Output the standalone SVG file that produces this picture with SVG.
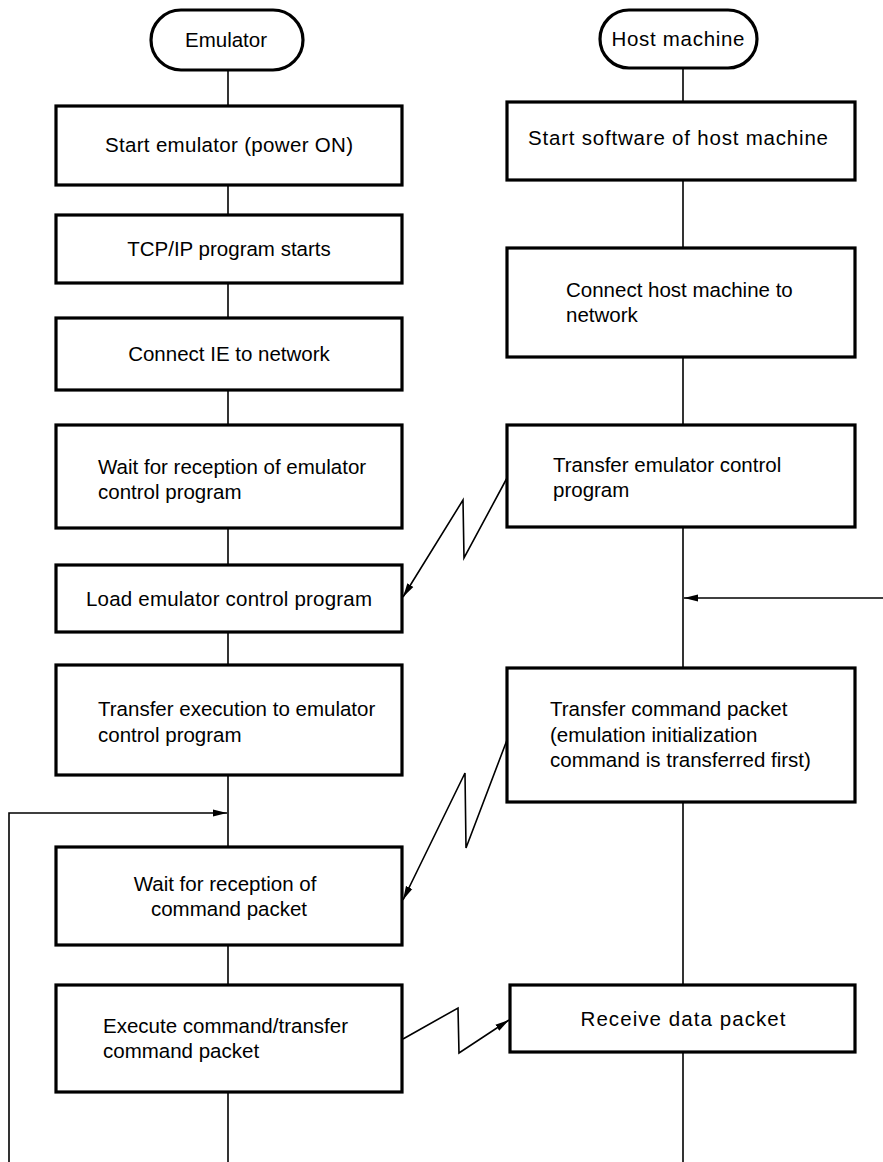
<svg xmlns="http://www.w3.org/2000/svg" width="883" height="1162" viewBox="0 0 883 1162">
<style>
.box{fill:#fff;stroke:#000;stroke-width:3.2}
.ln{fill:none;stroke:#000;stroke-width:1.6}
text{font-family:"Liberation Sans",Arial,sans-serif;font-size:20.5px;fill:#000}
.c{text-anchor:middle}
</style>
<defs>
<marker id="ah" viewBox="0 0 14 8" refX="14" refY="4" markerWidth="14" markerHeight="8" markerUnits="userSpaceOnUse" orient="auto">
<path d="M0,0.5 L14,4 L0,7.5 Z" fill="#000"/>
</marker>
</defs>
<rect width="883" height="1162" fill="#fff"/>
<g id="connectors">
<line class="ln" x1="228" y1="70" x2="228" y2="106"/>
<line class="ln" x1="228" y1="185" x2="228" y2="215"/>
<line class="ln" x1="228" y1="283" x2="228" y2="318"/>
<line class="ln" x1="228" y1="390" x2="228" y2="425"/>
<line class="ln" x1="228" y1="528" x2="228" y2="565"/>
<line class="ln" x1="228" y1="632" x2="228" y2="665"/>
<line class="ln" x1="228" y1="775" x2="228" y2="847"/>
<line class="ln" x1="228" y1="945" x2="228" y2="985"/>
<line class="ln" x1="228" y1="1092" x2="228" y2="1162"/>
<line class="ln" x1="683" y1="68" x2="683" y2="102"/>
<line class="ln" x1="683" y1="180" x2="683" y2="248"/>
<line class="ln" x1="683" y1="357" x2="683" y2="425"/>
<line class="ln" x1="683" y1="527" x2="683" y2="668"/>
<line class="ln" x1="683" y1="802" x2="683" y2="985"/>
<line class="ln" x1="683" y1="1052" x2="683" y2="1162"/>
<polyline class="ln" points="883,598 684,598" marker-end="url(#ah)"/>
<polyline class="ln" points="9,1162 9,813 227,813" marker-end="url(#ah)"/>
<polyline class="ln" points="507,478 464,558 463,500 403,597" marker-end="url(#ah)"/>
<polyline class="ln" points="507,740 466,848 465,773 403,900" marker-end="url(#ah)"/>
<polyline class="ln" points="403,1039 458,1008 459,1053 509,1020" marker-end="url(#ah)"/>
</g>
<g id="t-emulator"><rect class="box" x="151" y="10" width="152" height="60" rx="30"/><text class="c" x="226" y="47">Emulator</text></g>
<g id="t-host"><rect class="box" x="600" y="10" width="157" height="58" rx="29"/><text class="c" x="678" y="46" textLength="133">Host machine</text></g>
<g id="e1"><rect class="box" x="56" y="106" width="346" height="79"/><text class="c" x="229" y="152" textLength="248">Start emulator (power ON)</text></g>
<g id="e2"><rect class="box" x="56" y="215" width="346" height="68"/><text class="c" x="229" y="256">TCP/IP program starts</text></g>
<g id="e3"><rect class="box" x="56" y="318" width="346" height="72"/><text class="c" x="229" y="361">Connect IE to network</text></g>
<g id="e4"><rect class="box" x="56" y="425" width="346" height="103"/><text x="98" y="474">Wait for reception of emulator</text><text x="98" y="499">control program</text></g>
<g id="e5"><rect class="box" x="56" y="565" width="346" height="67"/><text class="c" x="229" y="606" textLength="286">Load emulator control program</text></g>
<g id="e6"><rect class="box" x="56" y="665" width="346" height="110"/><text x="98" y="716">Transfer execution to emulator</text><text x="98" y="742">control program</text></g>
<g id="e7"><rect class="box" x="56" y="847" width="346" height="98"/><text class="c" x="225" y="891">Wait for reception of</text><text class="c" x="229" y="916">command packet</text></g>
<g id="e8"><rect class="box" x="56" y="985" width="346" height="107"/><text x="103" y="1033">Execute command/transfer</text><text x="103" y="1058">command packet</text></g>
<g id="h1"><rect class="box" x="507" y="102" width="348" height="78"/><text class="c" x="678" y="145" textLength="300">Start software of host machine</text></g>
<g id="h2"><rect class="box" x="507" y="248" width="348" height="109"/><text x="566" y="297">Connect host machine to</text><text x="566" y="322">network</text></g>
<g id="h3"><rect class="box" x="507" y="425" width="348" height="102"/><text x="553" y="472">Transfer emulator control</text><text x="553" y="497">program</text></g>
<g id="h4"><rect class="box" x="507" y="668" width="348" height="134"/><text x="550" y="716">Transfer command packet</text><text x="550" y="742">(emulation initialization</text><text x="550" y="767">command is transferred first)</text></g>
<g id="h5"><rect class="box" x="510" y="985" width="345" height="67"/><text class="c" x="683" y="1026" textLength="205">Receive data packet</text></g>
</svg>
